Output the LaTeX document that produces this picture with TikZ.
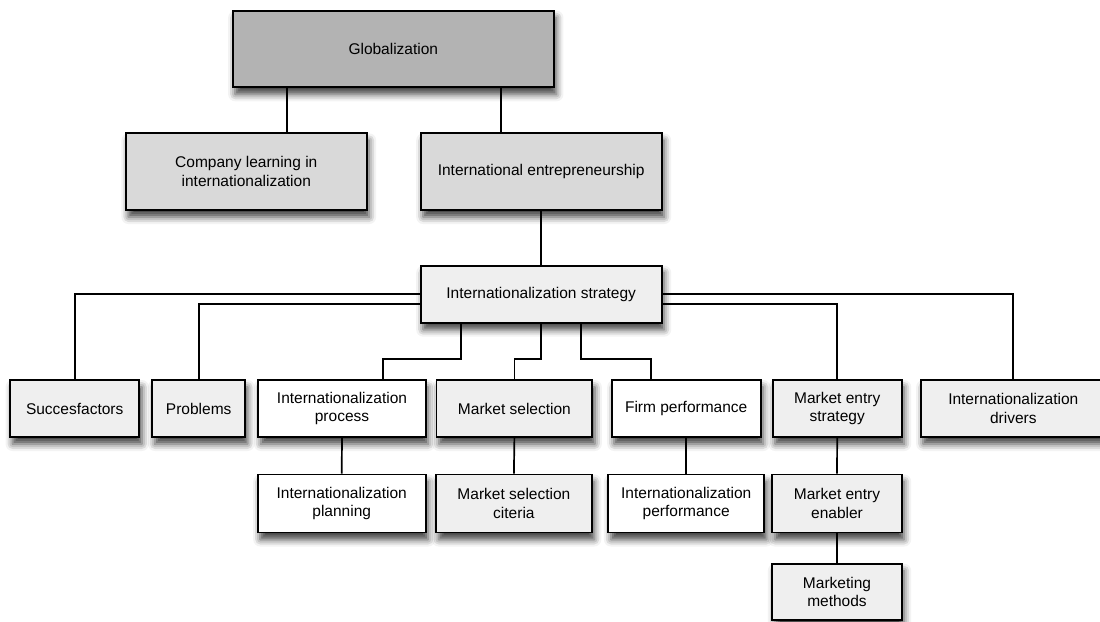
\documentclass[tikz,border=0pt]{standalone}
\usepackage{fontspec}
\setmainfont{Liberation Sans}
\usetikzlibrary{shadows.blur,backgrounds,calc}

\definecolor{topgray}{HTML}{B3B3B3}
\definecolor{midgray}{HTML}{D9D9D9}
\definecolor{lightgray}{HTML}{EFEFEF}

\tikzset{
  box/.style={draw=black, line width=1.9pt, rectangle, align=center,
    inner sep=2pt, font=\fontsize{15.5}{18.7}\selectfont,
    blur shadow={shadow xshift=2.5pt, shadow yshift=-7pt,
      shadow blur radius=7pt, shadow opacity=75}},
  wire/.style={draw=black, line width=1.7pt},
}

\begin{document}
\begin{tikzpicture}[x=1pt,y=-1pt]
\useasboundingbox (0,0) rectangle (1100,621);

% top levels
\node[box, fill=topgray, minimum width=321.3pt, minimum height=76.6pt] (glob) at (393.3,49) {Globalization};
\node[box, fill=midgray, minimum width=240.7pt, minimum height=76.7pt] (comp) at (246.3,171.7) {Company learning in\\internationalization};
\node[box, fill=midgray, minimum width=241pt, minimum height=76.7pt] (intent) at (541.2,171.7) {International entrepreneurship};
\node[box, fill=lightgray, minimum width=241pt, minimum height=57pt] (strat) at (541.2,294.2) {Internationalization strategy};

% second row
\node[box, fill=lightgray, minimum width=129.3pt, minimum height=57pt] (succ) at (74.7,408.5) {Succesfactors};
\node[box, fill=lightgray, minimum width=92.7pt, minimum height=57pt] (prob) at (198.7,408.5) {Problems};
\node[box, fill=white, minimum width=167.4pt, minimum height=57pt] (proc) at (342,408.5) {Internationalization\\process};
\node[box, fill=lightgray, minimum width=155.8pt, minimum height=57pt] (msel) at (514.4,408.5) {Market selection};
\node[box, fill=white, minimum width=149pt, minimum height=57pt] (firm) at (686.2,408.5) {Firm performance};
\node[box, fill=lightgray, minimum width=129pt, minimum height=57pt] (mes) at (837.2,408.5) {Market entry\\strategy};
\node[box, fill=lightgray, minimum width=185.3pt, minimum height=57pt] (drv) at (1013.3,408.5) {Internationalization\\drivers};

% third row
\node[box, fill=white, minimum width=168pt, minimum height=58pt] (plan) at (341.7,503.5) {Internationalization\\planning};
\node[box, fill=lightgray, minimum width=155.7pt, minimum height=58pt] (crit) at (513.9,503.5) {Market selection\\citeria};
\node[box, fill=white, minimum width=155.7pt, minimum height=58pt] (iperf) at (686.2,503.5) {Internationalization\\performance};
\node[box, fill=lightgray, minimum width=129.4pt, minimum height=58pt] (enab) at (837,503.5) {Market entry\\enabler};

% fourth row
\node[box, fill=lightgray, minimum width=129.4pt, minimum height=56.3pt] (mm) at (837,591.9) {Marketing\\methods};

% routing points for the connectors
\coordinate (gx1) at (286.7,0);
\coordinate (gx2) at (500.7,0);
\coordinate (sw2) at ($(strat.west)+(0,9.8)$);
\coordinate (se2) at ($(strat.east)+(0,9.8)$);
\coordinate (bend) at (0,359.3);
\coordinate (px1) at (461,0);
\coordinate (px2) at (382.7,0);
\coordinate (fx1) at (581,0);
\coordinate (fx2) at (650.7,0);

\begin{pgfonlayer}{background}
  \draw[wire] (glob.south -| gx1) -- (comp.north -| gx1);
  \draw[wire] (glob.south -| gx2) -- (intent.north -| gx2);
  \draw[wire] (intent.south) -- (strat.north);
  \draw[wire] (strat.west) -- (strat.west -| succ.north) -- (succ.north);
  \draw[wire] (sw2) -- (sw2 -| prob.north) -- (prob.north);
  \draw[wire] (strat.south -| px1) -- (bend -| px1) -- (bend -| px2) -- (proc.north -| px2);
  \draw[wire] (strat.south) -- (bend -| strat.south) -- (bend -| msel.north) -- (msel.north);
  \draw[wire] (strat.south -| fx1) -- (bend -| fx1) -- (bend -| fx2) -- (firm.north -| fx2);
  \draw[wire] (se2) -- (se2 -| mes.north) -- (mes.north);
  \draw[wire] (strat.east) -- (strat.east -| drv.north) -- (drv.north);
  \draw[wire] (proc.south) -- (plan.north);
  \draw[wire] (msel.south) -- (crit.north);
  \draw[wire] (firm.south) -- (iperf.north);
  \draw[wire] (mes.south) -- (enab.north);
  \draw[wire] (enab.south) -- (mm.north);
\end{pgfonlayer}
\end{tikzpicture}
\end{document}
